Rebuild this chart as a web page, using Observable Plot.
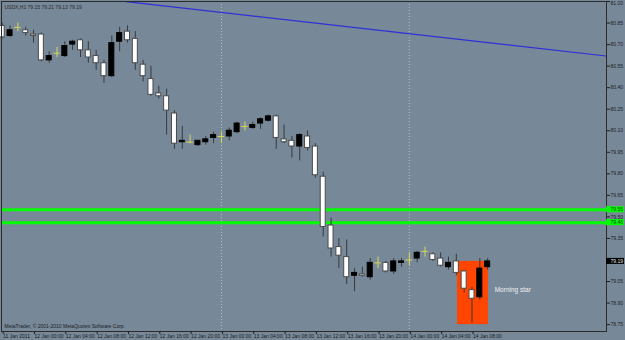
<!DOCTYPE html>
<html>
<head>
<meta charset="utf-8">
<script src="https://cdn.jsdelivr.net/npm/d3@7"></script>
<script src="https://cdn.jsdelivr.net/npm/@observablehq/plot@0.6"></script>
<style>
  html, body { margin: 0; padding: 0; background: #778899; }
</style>
</head>
<body>
<div id="chart"></div>
<script>
// ---- Data (USDX, H1 bars from 11 Jan 2011 20:00) ----
const symbol = "USDX,H1";
const opens  = [80.83,80.76,80.82,80.80,80.77,80.77,80.59,80.64,80.62,80.70,80.73,80.66,80.62,80.57,80.48,80.72,80.79,80.74,80.56,80.46,80.36,80.34,80.22,80.02,80.02,80.00,80.02,80.05,80.06,80.06,80.09,80.13,80.12,80.15,80.17,80.20,80.04,80.03,79.99,80.06,79.99,79.78,79.44,79.29,79.22,79.09,79.10,79.08,79.18,79.18,79.12,79.18,79.20,79.21,79.26,79.24,79.21,79.15,79.19,79.12,78.99,78.94,79.15];
const highs  = [80.85,80.83,80.85,80.82,80.80,80.78,80.65,80.68,80.72,80.73,80.74,80.72,80.66,80.59,80.76,80.82,80.83,80.79,80.59,80.55,80.41,80.39,80.24,80.13,80.07,80.03,80.06,80.09,80.09,80.12,80.16,80.16,80.16,80.19,80.21,80.21,80.14,80.06,80.08,80.10,80.01,79.81,79.49,79.35,79.34,79.14,79.15,79.21,79.22,79.19,79.21,79.21,79.25,79.26,79.29,79.25,79.25,79.22,79.24,79.125,79.01,79.21,79.21];
const lows   = [80.74,80.75,80.79,80.76,80.71,80.58,80.57,80.61,80.61,80.66,80.61,80.57,80.52,80.43,80.47,80.65,80.71,80.52,80.44,80.34,80.32,80.07,79.97,79.97,80.01,79.99,80.00,80.01,80.01,80.03,80.08,80.10,80.11,80.11,80.16,79.97,80.01,79.91,79.89,79.96,79.77,79.36,79.22,79.14,79.03,78.98,79.08,79.06,79.14,79.11,79.10,79.15,79.16,79.18,79.22,79.19,79.15,79.13,79.09,78.97,78.76,78.92,79.13];
const closes = [80.75,80.80,80.82,80.78,80.76,80.59,80.62,80.64,80.69,80.72,80.66,80.61,80.57,80.48,80.71,80.78,80.73,80.57,80.48,80.35,80.34,80.24,80.01,80.03,80.02,80.03,80.04,80.07,80.06,80.10,80.15,80.13,80.14,80.18,80.20,80.05,80.02,79.99,80.07,79.98,79.79,79.43,79.28,79.23,79.08,79.11,79.09,79.18,79.18,79.12,79.19,79.19,79.20,79.25,79.26,79.20,79.16,79.18,79.11,79.00,78.93,79.14,79.19];

const timeTickBars   = [0,4,8,12,16,20,24,28,32,36,40,44,48,52,56,60];
const timeTickLabels = ["11 Jan 2011","12 Jan 00:00","12 Jan 04:00","12 Jan 08:00","12 Jan 12:00","12 Jan 16:00","12 Jan 20:00","13 Jan 00:00","13 Jan 04:00","13 Jan 08:00","13 Jan 12:00","13 Jan 16:00","13 Jan 20:00","14 Jan 00:00","14 Jan 04:00","14 Jan 08:00"];
const priceTicks = [81.00,80.85,80.70,80.55,80.40,80.25,80.10,79.95,79.80,79.65,79.50,79.35,79.20,79.05,78.90,78.75];
const daySeparators = [28, 52];

const levelLines = [79.55, 79.46];              // green horizontal lines
const trendBars   = [5, 77.2];                   // blue trend line anchors
const trendPrices = [81.066, 80.62];
const patternBox  = {bar1: 58.15, bar2: 62.1, price1: 78.75, price2: 79.19};
const patternLabel = {bar: 62.9, price: 78.99, text: "Morning star"};
const copyright = "MetaTrader, \u00a9 2001-2010 MetaQuotes Software Corp.";

// ---- Build tables ----
const candles = opens.map((o, i) => ({i, open: o, high: highs[i], low: lows[i], close: closes[i]}));
const bodies = candles.filter(d => d.open !== d.close);
const dojis  = candles.filter(d => d.open === d.close);
const last = candles[candles.length - 1];
const title = `${symbol} ${last.open.toFixed(2)} ${last.high.toFixed(2)} ${last.low.toFixed(2)} ${last.close.toFixed(2)}`;
const trend = trendBars.map((b, k) => ({b, p: trendPrices[k]}));
const topTick = priceTicks[0];
const otherTicks = priceTicks.slice(1);

const xMin = -0.09, xMax = 77.18;
const yMin = 78.702, yMax = 81.0;
const hw = 0.32;
const font = "Liberation Sans, Arial, sans-serif";

const chart = Plot.plot({
  width: 625,
  height: 340,
  marginLeft: 1,
  marginRight: 19,
  marginTop: 1,
  marginBottom: 9,
  style: {background: "#778899", fontFamily: font, overflow: "visible"},
  x: {type: "linear", domain: [xMin, xMax]},
  y: {type: "linear", domain: [yMin, yMax]},
  marks: [
    // pattern box (background object)
    Plot.rect([patternBox], {x1: "bar1", x2: "bar2", y1: "price1", y2: "price2", fill: "#ff4500"}),
    // period separators
    Plot.ruleX(daySeparators, {x: d => d, stroke: "#b4bcc8", strokeDasharray: "1,2", strokeWidth: 1}),
    // level lines
    Plot.ruleY(levelLines, {y: d => d, stroke: "#00ff00", strokeWidth: 3}),
    // trend line
    Plot.line(trend, {x: "b", y: "p", stroke: "#2f2fd6", strokeWidth: 1.2, clip: true}),
    // wicks
    Plot.ruleX(bodies, {x: "i", y1: "low", y2: "high", stroke: "#3a3a3a", strokeWidth: 1}),
    // bodies
    Plot.rect(bodies, {
      x1: d => d.i - hw, x2: d => d.i + hw, y1: "open", y2: "close",
      fill: d => d.close > d.open ? "#000000" : "#ffffff",
      stroke: d => d.close > d.open ? "#000000" : "#4a4a4a", strokeWidth: 1
    }),
    // doji crosses
    Plot.ruleX(dojis, {x: "i", y1: "low", y2: "high", stroke: "#d6d65a", strokeWidth: 1}),
    Plot.ruleY(dojis, {y: "open", x1: d => d.i - 0.42, x2: d => d.i + 0.42, stroke: "#d6d65a", strokeWidth: 1}),
    // pattern label
    Plot.text([patternLabel], {x: "bar", y: "price", text: "text", fill: "#f2f2f2", fontSize: 6.5, textAnchor: "start"}),
    // frame
    Plot.frame({stroke: "#2b2b2b"}),
    // axes
    Plot.axisY(otherTicks, {anchor: "right", tickSize: 3, tickPadding: 1, tickFormat: d => d.toFixed(2), fontSize: 5, color: "#1e1e1e", textAnchor: "start"}),
    Plot.axisY([topTick], {anchor: "right", tickSize: 3, tickPadding: 1, tickFormat: d => d.toFixed(2), fontSize: 5, color: "#1e1e1e", textAnchor: "start", lineAnchor: "top", dy: 0}),
    Plot.axisX(timeTickBars, {anchor: "bottom", tickSize: 3, tickPadding: 0, tickFormat: (d, k) => timeTickLabels[k], fontSize: 5, color: "#1e1e1e", textAnchor: "start", dx: 1}),
    // level labels on the price axis
    Plot.rect(levelLines, {x1: xMax, x2: xMax, y1: d => d - 0.021, y2: d => d + 0.021, insetRight: -18, fill: "#00ff00", clip: false}),
    Plot.text(levelLines, {x: xMax, y: d => d, text: d => d.toFixed(2), dx: 4, textAnchor: "start", fontSize: 5, fill: "#1e3a1e"}),
    // current price label
    Plot.rect([last.close], {x1: xMax, x2: xMax, y1: d => d - 0.021, y2: d => d + 0.021, insetRight: -18, fill: "#000000", clip: false}),
    Plot.text([last.close], {x: xMax, y: d => d, text: d => d.toFixed(2), dx: 4, textAnchor: "start", fontSize: 5, fill: "#e0e0e0"}),
    // chart title & copyright
    Plot.text([title], {frameAnchor: "top-left", dx: 3, dy: 4, fontSize: 5, fill: "#2a2a2a", textAnchor: "start"}),
    Plot.text([copyright], {frameAnchor: "bottom-left", dx: 3, dy: -4, fontSize: 5, fill: "#1e1e1e", textAnchor: "start"})
  ]
});
document.getElementById("chart").appendChild(chart);
</script>
</body>
</html>
